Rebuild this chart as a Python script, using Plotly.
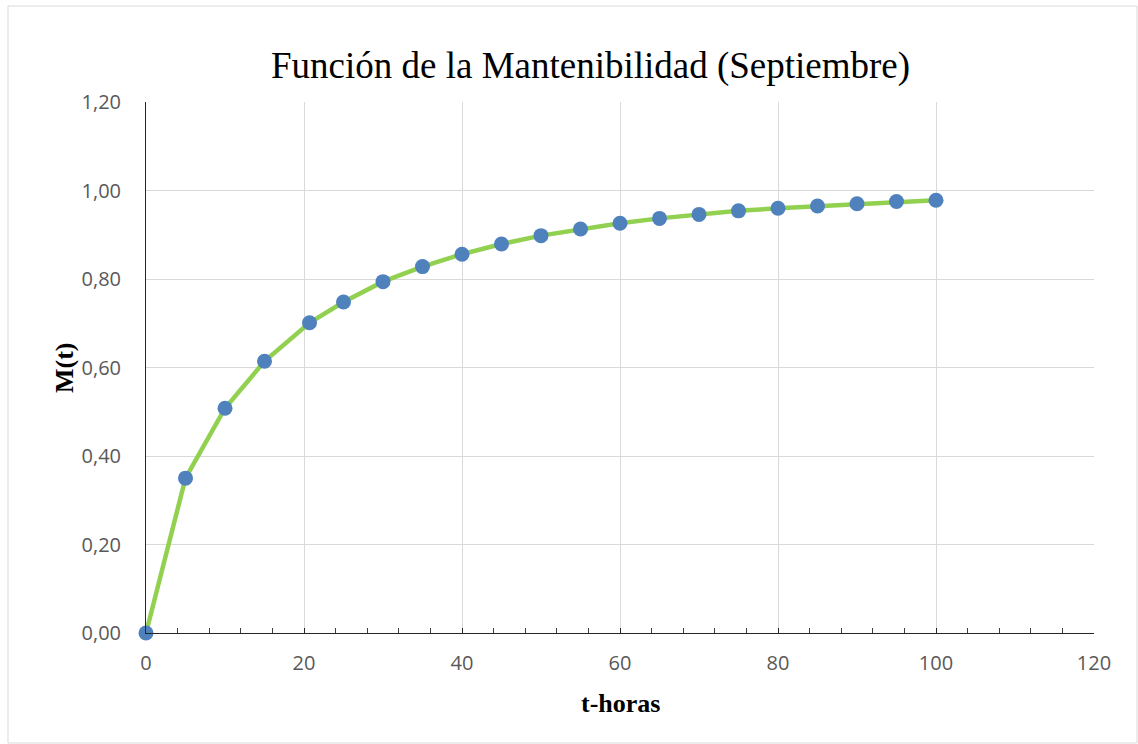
import plotly.graph_objects as go

# Datos
t_horas = [0, 5, 10, 15, 20.7, 25, 30, 35, 40, 45, 50, 55, 60, 65, 70, 75, 80, 85, 90, 95, 100]
m_t = [0.0, 0.350, 0.508, 0.614, 0.701, 0.748, 0.794, 0.828, 0.856, 0.879, 0.898, 0.913, 0.926,
       0.937, 0.946, 0.954, 0.960, 0.965, 0.970, 0.975, 0.978]

x_ticks = [0, 20, 40, 60, 80, 100, 120]
y_ticks = [0.0, 0.2, 0.4, 0.6, 0.8, 1.0, 1.2]

W, H = 1138, 744
L, R, T, B = 146, 1094, 102, 633

fig = go.Figure()

fig.add_trace(go.Scatter(
    x=t_horas, y=m_t,
    mode='lines+markers',
    line=dict(color='#92d050', width=4.5),
    marker=dict(color='#4f81bd', size=15),
    cliponaxis=False,
    showlegend=False
))

tick_font = dict(family='Open Sans', size=20, color='#595959')

fig.update_xaxes(
    range=[0, 120], tickvals=x_ticks,
    showgrid=True, gridcolor='#d9d9d9', gridwidth=1,
    showline=True, linecolor='#262626', linewidth=1,
    ticks='inside', ticklen=5, tickcolor='#262626',
    minor=dict(dtick=4, ticks='inside', ticklen=5, tickcolor='#404040', showgrid=False),
    tickfont=tick_font, ticklabelstandoff=12,
    zeroline=False, mirror=False
)
fig.update_yaxes(
    range=[0, 1.2], tickvals=y_ticks, tickformat='.2f',
    showgrid=True, gridcolor='#d9d9d9', gridwidth=1,
    showline=True, linecolor='#262626', linewidth=1,
    ticks='', tickfont=tick_font, ticklabelstandoff=20,
    zeroline=False
)


def px_x(p):
    return (p - L) / (R - L)


def px_y(p):
    return (B - p) / (B - T)


fig.update_layout(
    width=W, height=H,
    margin=dict(l=L, r=W - R, t=T, b=H - B),
    paper_bgcolor='white', plot_bgcolor='white',
    separators=', ',
    shapes=[dict(type='rect', xref='paper', yref='paper',
                 x0=px_x(8), x1=px_x(1137), y0=px_y(743), y1=px_y(6),
                 line=dict(color='#d9d9d9', width=1), layer='below')],
    annotations=[
        dict(text='Función de la Mantenibilidad (Septiembre)', xref='paper', yref='paper',
             x=px_x(590), y=px_y(66), xanchor='center', yanchor='middle', showarrow=False,
             font=dict(family='Liberation Serif', size=37, color='black')),
        dict(text='<b>t-horas</b>', xref='paper', yref='paper',
             x=px_x(620), y=px_y(703), xanchor='center', yanchor='middle', showarrow=False,
             font=dict(family='Liberation Serif', size=26, color='black')),
        dict(text='<b>M(t)</b>', xref='paper', yref='paper',
             x=px_x(64), y=px_y(368), xanchor='center', yanchor='middle',
             showarrow=False, textangle=-90,
             font=dict(family='Liberation Serif', size=26, color='black')),
    ]
)

# sin margen del body para que la figura quede en (0, 0)
fig.write_html("out.html", config={'displayModeBar': False},
               post_script="document.body.style.margin='0';")
